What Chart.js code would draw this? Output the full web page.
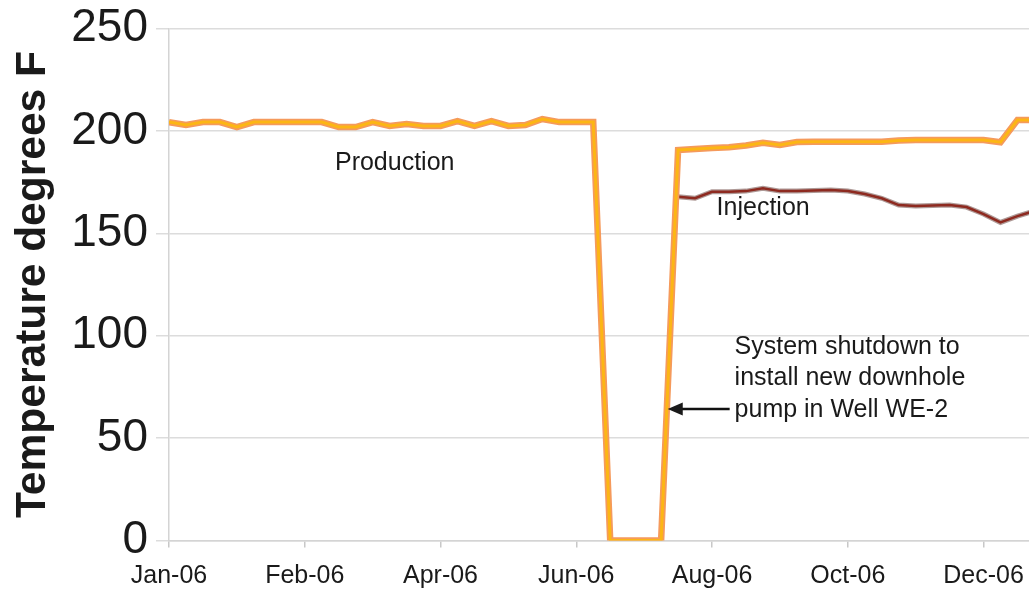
<!DOCTYPE html>
<html>
<head>
<meta charset="utf-8">
<script src="https://cdn.jsdelivr.net/npm/chart.js@4.4.1/dist/chart.umd.min.js"></script>
<style>
  html, body { margin: 0; padding: 0; background: #ffffff; overflow: hidden; }
  #wrap { position: relative; width: 1029px; height: 591px; }
</style>
</head>
<body>
<div id="wrap"><canvas id="c"></canvas></div>
<script>
// ---- data (x = week number from 1 Jan 2006) ----
const weeks = [0,1,2,3,4,5,6,7,8,9,10,11,12,13,14,15,16,17,18,19,20,21,22,23,24,25,26,27,28,29,30,31,32,33,34,35,36,37,38,39,40,41,42,43,44,45,46,47,48,49,50,51];
const production = [204.3,202.9,204.3,204.3,201.9,204.3,204.3,204.3,204.3,204.3,201.9,201.9,204.3,202.4,203.4,202.4,202.4,204.8,202.4,204.8,202.4,202.9,205.8,204.3,204.3,204.3,0,0,0,0,190.7,191.2,191.7,192.0,192.9,194.2,193.1,194.6,194.7,194.7,194.7,194.7,194.7,195.3,195.6,195.6,195.6,195.6,195.6,194.5,205.3,205.3];
const injectionWeeks = [30,31,32,33,34,35,36,37,38,39,40,41,42,43,44,45,46,47,48,49,50,51];
const injection = [167.9,167.1,170.3,170.3,170.6,172.0,170.6,170.6,170.9,171.1,170.6,169.2,167.1,163.8,163.3,163.6,163.8,162.8,159.4,155.3,158.4,160.9];
const tickWeeks = [0,8,16,24,32,40,48];
const tickLabels = ['Jan-06','Feb-06','Apr-06','Jun-06','Aug-06','Oct-06','Dec-06'];
const yTicks = [0,50,100,150,200,250];
const yTitle = 'Temperature degrees F';
const notes = [
  { text: 'Production', week: 9.78, value: 184.3 },
  { text: 'Injection', week: 32.27, value: 162.4 }
];
const shutdownNote = { lines: ['System shutdown to', 'install new downhole', 'pump in Well WE-2'], week: 33.33, values: [94.5, 79.3, 63.7] };
const shutdownArrow = { fromWeek: 33.04, toWeek: 29.39, value: 64.2 };

const FONT = "'Liberation Sans', Arial, Helvetica, sans-serif";
const TEXT = '#1a1a1a';

const prodPts = weeks.map((w, i) => ({ x: w, y: production[i] }));
const injPts = injectionWeeks.map((w, i) => ({ x: w, y: injection[i] }));

const annot = {
  id: 'annot',
  afterDatasetsDraw(chart) {
    const { ctx, scales: { x, y } } = chart;
    ctx.save();
    ctx.fillStyle = TEXT;
    ctx.font = '25px ' + FONT;
    ctx.textAlign = 'left';
    ctx.textBaseline = 'middle';
    notes.forEach(n => ctx.fillText(n.text, x.getPixelForValue(n.week), y.getPixelForValue(n.value)));
    shutdownNote.lines.forEach((t, i) => ctx.fillText(t, x.getPixelForValue(shutdownNote.week), y.getPixelForValue(shutdownNote.values[i])));
    // arrow
    const x0 = x.getPixelForValue(shutdownArrow.fromWeek);
    const x1 = x.getPixelForValue(shutdownArrow.toWeek);
    const ay = y.getPixelForValue(shutdownArrow.value);
    ctx.strokeStyle = '#111';
    ctx.lineWidth = 2.5;
    ctx.beginPath();
    ctx.moveTo(x0, ay);
    ctx.lineTo(x1 + 12, ay);
    ctx.stroke();
    ctx.beginPath();
    ctx.moveTo(x1, ay);
    ctx.lineTo(x1 + 15, ay - 6.5);
    ctx.lineTo(x1 + 15, ay + 6.5);
    ctx.closePath();
    ctx.fill();
    ctx.restore();
  }
};

new Chart(document.getElementById('c'), {
  type: 'line',
  data: {
    datasets: [
      { data: prodPts, borderColor: '#fcb614', borderWidth: 3, pointRadius: 0, tension: 0, order: 0 },
      { data: prodPts, borderColor: '#f59a5c', borderWidth: 6.5, pointRadius: 0, tension: 0, order: 1 },
      { data: injPts, borderColor: '#8e2a20', borderWidth: 2.5, pointRadius: 0, tension: 0, order: 2 },
      { data: injPts, borderColor: 'rgba(120,85,80,0.6)', borderWidth: 5, pointRadius: 0, tension: 0, order: 3 }
    ]
  },
  options: {
    responsive: true,
    maintainAspectRatio: false,
    animation: false,
    events: [],
    layout: { padding: { top: 28.5, right: 0, bottom: 0, left: 0 } },
    plugins: { legend: { display: false }, tooltip: { enabled: false } },
    scales: {
      x: {
        type: 'linear',
        min: 0,
        max: 50.68,
        afterBuildTicks(s) { s.ticks = tickWeeks.map(v => ({ value: v })); },
        ticks: {
          autoSkip: false, maxRotation: 0, includeBounds: false,
          padding: 14,
          color: TEXT,
          font: { family: FONT, size: 25 },
          callback: (v, i) => tickLabels[i]
        },
        grid: { drawOnChartArea: false, drawTicks: true, tickLength: 7, color: '#c8c8c8', lineWidth: 1.5 },
        border: { display: true, color: '#d4d4d4', width: 1.5 },
        afterFit(s) { s.height = 50.5; s.paddingLeft = 0; s.paddingRight = 0; }
      },
      y: {
        min: 0,
        max: 250,
        afterBuildTicks(s) { s.ticks = yTicks.map(v => ({ value: v })); },
        ticks: { padding: 8, color: TEXT, font: { family: FONT, size: 46 } },
        grid: { color: '#dcdcdc', lineWidth: 1.5, tickLength: 13 },
        border: { display: true, color: '#d4d4d4', width: 1.5 },
        title: { display: true, text: yTitle, color: TEXT, padding: { top: 8, bottom: 0 }, font: { family: FONT, size: 42.5, weight: 'bold' } },
        afterFit(s) { s.width = 169; s.paddingTop = 0; s.paddingBottom = 0; }
      }
    }
  },
  plugins: [annot]
});
</script>
</body>
</html>
